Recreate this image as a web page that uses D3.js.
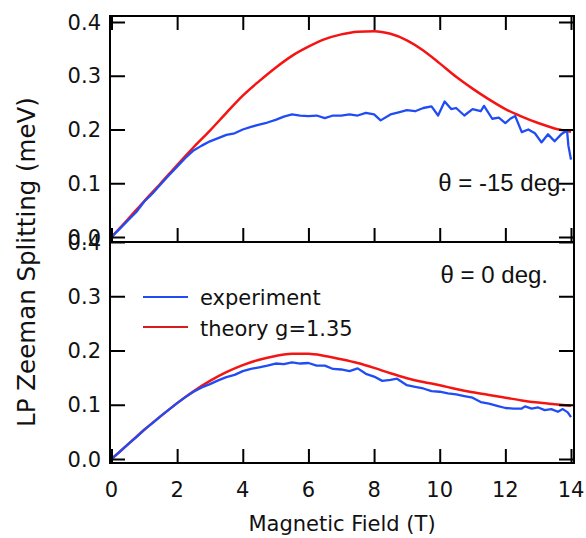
<!DOCTYPE html>
<html>
<head>
<meta charset="utf-8">
<script src="https://cdn.jsdelivr.net/npm/d3@7"></script>
<style>
  body { margin: 0; background: #fff; }
  svg { display: block; }
  text { font-family: "DejaVu Sans", sans-serif; fill: #111; }
</style>
</head>
<body>
<div id="chart"></div>
<script>
/* field values (T) and splittings (meV) */
var topExpB = [0, 0.25, 0.5, 0.75, 1, 1.25, 1.5, 1.75, 2, 2.25, 2.5, 2.75, 3, 3.25, 3.5, 3.75, 4, 4.25, 4.5, 4.75,
  5, 5.25, 5.5, 5.75, 6, 6.25, 6.5, 6.75, 7, 7.25, 7.5, 7.75, 8, 8.2, 8.5, 8.75, 9, 9.25, 9.5, 9.75,
  9.95, 10.15, 10.35, 10.5, 10.75, 11, 11.25, 11.35, 11.6, 11.8, 12, 12.15, 12.3, 12.5, 12.7, 12.9,
  13.1, 13.3, 13.5, 13.7, 13.88, 13.92, 14];
var topExpS = [0, 0.015, 0.031, 0.046, 0.066, 0.081, 0.098, 0.115, 0.131, 0.147, 0.161, 0.17, 0.178, 0.184, 0.19, 0.193, 0.2, 0.205, 0.209, 0.213,
  0.218, 0.224, 0.228, 0.226, 0.225, 0.226, 0.221, 0.226, 0.226, 0.228, 0.226, 0.231, 0.228, 0.217, 0.228, 0.232, 0.236, 0.234, 0.24, 0.243,
  0.226, 0.252, 0.238, 0.24, 0.226, 0.238, 0.234, 0.244, 0.22, 0.222, 0.212, 0.22, 0.225, 0.195, 0.2, 0.193,
  0.176, 0.191, 0.178, 0.191, 0.198, 0.17, 0.144];

var theoryB = [0, 0.5, 1, 1.5, 2, 2.5, 3, 3.5, 4, 4.5, 5, 5.5, 6, 6.5, 7, 7.5, 8, 8.5, 9, 9.5, 10, 10.5, 11, 11.5, 12, 12.5, 13, 13.5, 14];
var topTheoryS = [0, 0.033, 0.067, 0.1, 0.134, 0.167, 0.198, 0.231, 0.263, 0.29, 0.315, 0.337, 0.354, 0.368, 0.377, 0.382, 0.383, 0.378, 0.366,
  0.347, 0.323, 0.298, 0.276, 0.256, 0.238, 0.224, 0.212, 0.202, 0.196];

var botExpB = [0, 0.25, 0.5, 0.75, 1, 1.25, 1.5, 1.75, 2, 2.25, 2.5, 2.75, 3, 3.25, 3.5, 3.75, 4, 4.25, 4.5, 4.75,
  5, 5.25, 5.5, 5.75, 6, 6.25, 6.5, 6.75, 7, 7.25, 7.5, 7.75, 8, 8.25, 8.5, 8.7, 9, 9.25, 9.5, 9.75,
  10, 10.25, 10.5, 10.75, 11, 11.25, 11.5, 11.75, 12, 12.25, 12.5, 12.6, 12.8, 13, 13.2, 13.4, 13.6, 13.75, 13.9, 14];
var botExpS = [0, 0.013, 0.027, 0.04, 0.054, 0.066, 0.079, 0.091, 0.103, 0.114, 0.124, 0.132, 0.138, 0.145, 0.151, 0.155, 0.162, 0.166, 0.169, 0.172,
  0.176, 0.175, 0.178, 0.176, 0.177, 0.172, 0.172, 0.166, 0.165, 0.162, 0.167, 0.157, 0.152, 0.144, 0.146, 0.148, 0.136, 0.133, 0.13, 0.125,
  0.124, 0.121, 0.119, 0.116, 0.113, 0.105, 0.102, 0.098, 0.094, 0.093, 0.093, 0.097, 0.093, 0.095, 0.09, 0.092, 0.087, 0.092, 0.086, 0.077];
var botTheoryS = [0, 0.027, 0.054, 0.079, 0.103, 0.125, 0.144, 0.16, 0.173, 0.183, 0.19, 0.194, 0.194, 0.19, 0.184, 0.177, 0.168, 0.158, 0.149,
  0.142, 0.136, 0.129, 0.123, 0.118, 0.113, 0.108, 0.104, 0.101, 0.098];

var xTicks = [0, 2, 4, 6, 8, 10, 12, 14];
var yTicks = [0, 0.1, 0.2, 0.3, 0.4];
var legendLabels = ["experiment", "theory g=1.35"];
var panelLabels = ["\u03b8 = -15 deg.", "\u03b8 = 0 deg."];

var blue = "#1f4cf5", red = "#f51414";

var svg = d3.select("#chart").append("svg")
  .attr("width", 586)
  .attr("height", 538);

var x = d3.scaleLinear().domain([0, 14]).range([111.5, 571]);

var panels = [
  { y: d3.scaleLinear().domain([0, 0.4]).range([237, 22]), top: 16, bottom: 242,
    exp: d3.zip(topExpB, topExpS), theory: d3.zip(theoryB, topTheoryS), topTicks: true },
  { y: d3.scaleLinear().domain([0, 0.4]).range([459, 242]), top: 242, bottom: 463,
    exp: d3.zip(botExpB, botExpS), theory: d3.zip(theoryB, botTheoryS), topTicks: false }
];

panels.forEach(function(p, i) {
  var g = svg.append("g");
  var h = p.bottom - p.top;

  /* curves first so the frame sits on top */
  var line = d3.line()
    .x(function(d) { return x(d[0]); })
    .y(function(d) { return p.y(d[1]); });

  g.append("path").datum(p.theory)
    .attr("d", line.curve(d3.curveMonotoneX))
    .attr("fill", "none").attr("stroke", red).attr("stroke-width", 2.5);
  g.append("path").datum(p.exp)
    .attr("d", line.curve(d3.curveLinear))
    .attr("fill", "none").attr("stroke", blue).attr("stroke-width", 2.3)
    .attr("stroke-linejoin", "round");

  /* inward ticks on left, right, bottom (and top for the upper panel) */
  g.append("g").attr("transform", "translate(110,0)")
    .call(d3.axisRight(p.y).tickValues(yTicks).tickSize(15).tickFormat(""));
  g.append("g").attr("transform", "translate(574,0)")
    .call(d3.axisLeft(p.y).tickValues(yTicks).tickSize(15).tickFormat(""));
  g.append("g").attr("transform", "translate(0," + p.bottom + ")")
    .call(d3.axisTop(x).tickValues(xTicks).tickSize(14).tickFormat(""));
  if (p.topTicks) {
    g.append("g").attr("transform", "translate(0," + p.top + ")")
      .call(d3.axisBottom(x).tickValues(xTicks).tickSize(14).tickFormat(""));
  }
  g.selectAll(".domain").remove();
  g.selectAll(".tick line").attr("stroke", "#000").attr("stroke-width", 2);

  /* tick labels */
  g.selectAll(".ylab").data(yTicks).enter().append("text")
    .attr("x", 101)
    .attr("y", function(d) { return p.y(d); })
    .attr("dy", "0.36em")
    .attr("text-anchor", "end")
    .style("font-size", "21px")
    .text(function(d) { return d3.format(".1f")(d); });

  g.append("rect")
    .attr("x", 110).attr("y", p.top)
    .attr("width", 464).attr("height", h)
    .attr("fill", "none").attr("stroke", "#000").attr("stroke-width", 2);

  g.append("text")
    .attr("x", i == 0 ? 567 : 548)
    .attr("y", i == 0 ? 191 : 283)
    .attr("text-anchor", "end")
    .style("font-family", "'Liberation Sans', Arial, sans-serif")
    .style("font-size", "24px")
    .text(panelLabels[i]);
});

/* x tick labels under the lower panel */
svg.selectAll(".xlab").data(xTicks).enter().append("text")
  .attr("x", function(d) { return x(d); })
  .attr("y", 497)
  .attr("text-anchor", "middle")
  .style("font-size", "21px")
  .text(function(d) { return d; });

svg.append("text")
  .attr("x", 342).attr("y", 531)
  .attr("text-anchor", "middle")
  .style("font-size", "21px")
  .text("Magnetic Field (T)");

svg.append("text")
  .attr("transform", "translate(35,262) rotate(-90)")
  .attr("text-anchor", "middle")
  .style("font-size", "24.5px")
  .text("LP Zeeman Splitting (meV)");

/* legend */
var legend = svg.append("g");
[blue, "#d91c1c"].forEach(function(c, i) {
  legend.append("line")
    .attr("x1", 143).attr("x2", 188)
    .attr("y1", 297 + i * 30).attr("y2", 297 + i * 30)
    .attr("stroke", c).attr("stroke-width", 2.2);
  legend.append("text")
    .attr("x", 200).attr("y", 305 + i * 31)
    .style("font-size", "21px")
    .text(legendLabels[i]);
});
</script>
</body>
</html>
